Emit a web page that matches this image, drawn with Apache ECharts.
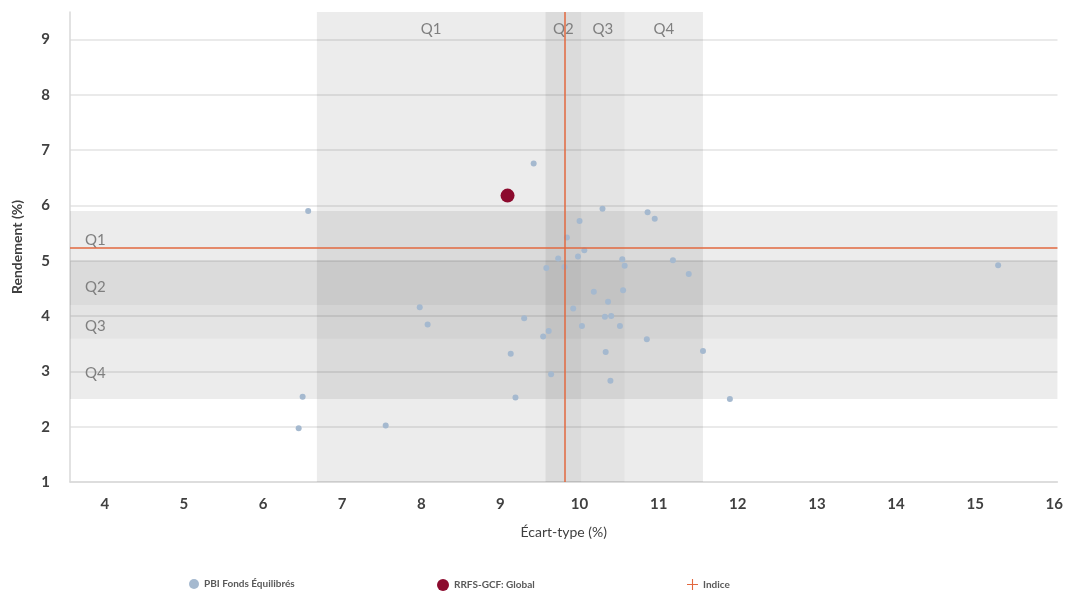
<!DOCTYPE html>
<html>
<head>
<meta charset="utf-8">
<script src="https://cdn.jsdelivr.net/npm/echarts@6/dist/echarts.min.js"></script>
<style>
html,body{margin:0;padding:0;background:#fff;}
#chart{width:1066px;height:591px;}
</style>
</head>
<body>
<div id="chart"></div>
<script>
// ---- Data ----
const seriesNames = ['PBI Fonds Équilibrés', 'RRFS-GCF: Global', 'Indice'];
// Peer funds: [écart-type, rendement]
const peerFunds = [
  [9.42, 6.76], [6.57, 5.90], [10.29, 5.94], [10.86, 5.88], [10.95, 5.76],
  [10.00, 5.72], [9.84, 5.42], [10.06, 5.19], [9.98, 5.08], [9.73, 5.04],
  [10.54, 5.03], [10.57, 4.91], [11.18, 5.01], [11.38, 4.76], [9.58, 4.87],
  [9.81, 4.89], [10.18, 4.44], [10.55, 4.47], [10.36, 4.26], [9.92, 4.14],
  [10.32, 3.99], [10.40, 4.00], [7.98, 4.16], [8.08, 3.85], [9.30, 3.96],
  [10.03, 3.82], [10.51, 3.82], [9.61, 3.73], [9.54, 3.63], [10.85, 3.58],
  [11.56, 3.37], [9.13, 3.32], [10.33, 3.35], [9.64, 2.95], [10.39, 2.83],
  [6.50, 2.54], [9.19, 2.53], [6.45, 1.97], [7.55, 2.02], [15.29, 4.92],
  [11.90, 2.50]
];
const portfolio = [[9.09, 6.18]];
const indexPoint = [9.81, 5.24];
// Quartile bands
const quartileLabels = ['Q1', 'Q2', 'Q3', 'Q4'];
const stdBands = [[6.68, 9.57], [9.57, 10.02], [10.02, 10.57], [10.57, 11.56]];
const retBands = [[5.90, 5.00], [5.00, 4.20], [4.20, 3.59], [3.59, 2.50]];
const xAxisTicks = [4, 5, 6, 7, 8, 9, 10, 11, 12, 13, 14, 15, 16];
const yAxisTicks = [1, 2, 3, 4, 5, 6, 7, 8, 9];

// ---- Styles ----
const FONT = 'Lato, "Open Sans", sans-serif';
const bandFill = ['rgba(0,0,0,0.075)', 'rgba(0,0,0,0.14)', 'rgba(0,0,0,0.105)', 'rgba(0,0,0,0.075)'];
const qLabelStyle = { color: '#7f7f7f', fontSize: 15, fontFamily: FONT };

const areas = [];
stdBands.forEach((b, i) => {
  areas.push([
    { xAxis: b[0], yAxis: 'max', itemStyle: { color: bandFill[i] },
      label: Object.assign({ show: true, position: 'insideTop', distance: 10 }, qLabelStyle),
      name: quartileLabels[i] },
    { xAxis: b[1], yAxis: 'min' }
  ]);
});
retBands.forEach((b, i) => {
  areas.push([
    { xAxis: 'min', yAxis: b[0], itemStyle: { color: bandFill[i] },
      label: Object.assign({ show: true, position: 'insideLeft', distance: 15, offset: [0, 4] }, qLabelStyle),
      name: quartileLabels[i] },
    { xAxis: 'max', yAxis: b[1] }
  ]);
});

const isInt = v => Math.abs(v - Math.round(v)) < 1e-6;
const chart = echarts.init(document.getElementById('chart'), null, { renderer: 'canvas' });
const plusIcon = 'path://M4.5,0h1v4.5h4.5v1h-4.5v4.5h-1v-4.5h-4.5v-1h4.5z';
const legendText = { fontSize: 10, color: '#595959', fontFamily: FONT, fontWeight: 'bold' };

chart.setOption({
  animation: false,
  backgroundColor: '#ffffff',
  grid: { left: 70, right: 5, top: 12, bottom: 109, containLabel: false },
  xAxis: {
    type: 'value', min: 3.56, max: 16.04, interval: 0.04,
    name: 'Écart-type (%)', nameLocation: 'middle', nameGap: 43,
    nameTextStyle: { fontSize: 14, color: '#404040', fontFamily: FONT },
    axisLine: { show: true, lineStyle: { color: '#d9d9d9', width: 1.5 } },
    axisTick: { show: false },
    splitLine: { show: false },
    axisLabel: {
      margin: 15, fontSize: 15, color: '#404040', fontWeight: 'bold', fontFamily: FONT,
      formatter: v => (isInt(v) && xAxisTicks.indexOf(Math.round(v)) >= 0) ? String(Math.round(v)) : ''
    }
  },
  yAxis: {
    type: 'value', min: 1, max: 9.5, interval: 1,
    name: 'Rendement (%)', nameLocation: 'middle', nameGap: 46, nameRotate: 90,
    nameTextStyle: { fontSize: 14, color: '#404040', fontWeight: 'bold', fontFamily: FONT },
    axisLine: { show: true, lineStyle: { color: '#d9d9d9', width: 1.5 } },
    axisTick: { show: false },
    splitLine: { show: true, showMaxLine: false, lineStyle: { color: '#e3e3e3', width: 1.5 } },
    axisLabel: {
      margin: 20, fontSize: 15, color: '#404040', fontWeight: 'bold', fontFamily: FONT,
      formatter: v => (isInt(v) && yAxisTicks.indexOf(Math.round(v)) >= 0) ? String(Math.round(v)) : ''
    }
  },
  legend: [
    { data: [{ name: seriesNames[0], icon: 'circle' }], left: 184, top: 574, itemWidth: 10, itemHeight: 10, itemGap: 4, textStyle: legendText },
    { data: [{ name: seriesNames[1], icon: 'circle' }], left: 432, top: 574, itemWidth: 12, itemHeight: 12, itemGap: 4, textStyle: legendText },
    { data: [{ name: seriesNames[2], icon: plusIcon }], left: 682, top: 574, itemWidth: 11, itemHeight: 11, itemGap: 8, textStyle: legendText }
  ],
  series: [
    {
      name: 'bands', type: 'scatter', data: [], silent: true, z: 1,
      markArea: { silent: true, data: areas }
    },
    {
      name: seriesNames[2], type: 'line', data: [], z: 3,
      itemStyle: { color: '#e2683f' },
      lineStyle: { color: '#e2683f' },
      markLine: {
        silent: true, symbol: 'none', animation: false,
        label: { show: false },
        lineStyle: { color: '#e2683f', width: 1.5, type: 'solid' },
        data: [{ xAxis: indexPoint[0] }, { yAxis: indexPoint[1] }]
      }
    },
    {
      name: seriesNames[0], type: 'scatter', data: peerFunds, z: 4,
      symbolSize: 6,
      itemStyle: { color: '#a5b9cf', opacity: 1 }
    },
    {
      name: seriesNames[1], type: 'scatter', data: portfolio, z: 5,
      symbolSize: 14,
      itemStyle: { color: '#8c0b2e', opacity: 1 }
    }
  ]
});
</script>
</body>
</html>
